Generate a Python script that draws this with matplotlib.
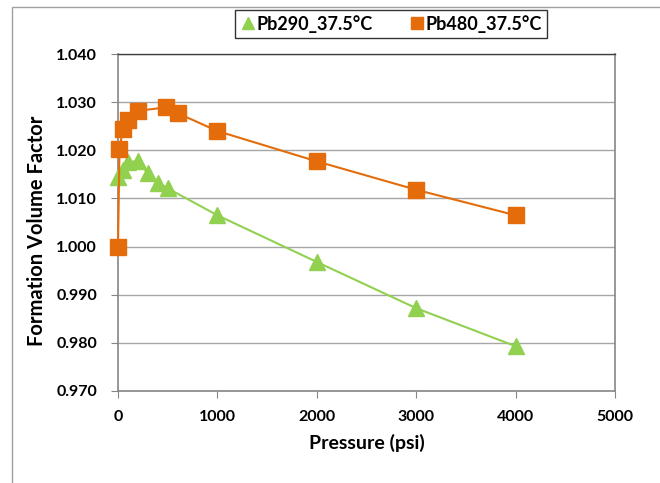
import matplotlib
matplotlib.use("Agg")
import matplotlib.pyplot as plt
from matplotlib.patches import Rectangle

plt.rcParams['font.family'] = ['Lato', 'DejaVu Sans']

p_290 = [0, 50, 100, 200, 300, 400, 500, 1000, 2000, 3000, 4000]
fvf_290 = [1.0145, 1.0160, 1.0175, 1.0178, 1.0152, 1.0133, 1.0121, 1.0065, 0.9968, 0.9872, 0.9793]
p_480 = [0, 15, 50, 100, 200, 480, 600, 1000, 2000, 3000, 4000]
fvf_480 = [1.0000, 1.0202, 1.0245, 1.0262, 1.0282, 1.0289, 1.0277, 1.0240, 1.0177, 1.0118, 1.0065]
label_290 = "Pb290_37.5°C"
label_480 = "Pb480_37.5°C"
x_ticks = [0, 1000, 2000, 3000, 4000, 5000]
y_ticks = [0.970, 0.980, 0.990, 1.000, 1.010, 1.020, 1.030, 1.040]

green = '#92D050'
orange = '#E46C0A'

fig = plt.figure(figsize=(6.6, 4.83), dpi=100)
ax = fig.add_axes([118/660, 1-391/483, (615-118)/660, (391-54)/483])

ax.plot(p_290, fvf_290, color=green, lw=1.5, marker='^', ms=12, mec=green, mfc=green,
        label=label_290, zorder=3, clip_on=False)
ax.plot(p_480, fvf_480, color=orange, lw=1.5, marker='s', ms=12, mec=orange, mfc=orange,
        label=label_480, zorder=3, clip_on=False)

ax.set_xlim(0, 5000)
ax.set_ylim(0.970, 1.040)
ax.set_xticks(x_ticks)
ax.set_yticks(y_ticks)
ax.set_xticklabels([str(v) for v in x_ticks], fontsize=11.5, fontweight='bold')
ax.set_yticklabels([f"{v:.3f}" for v in y_ticks], fontsize=11.5, fontweight='bold')
ax.grid(axis='y', color='#A6A6A6', lw=1)
ax.set_axisbelow(True)
for s in ['left', 'bottom', 'right']:
    ax.spines[s].set_color('#868686')
    ax.spines[s].set_linewidth(1.2)
ax.spines['top'].set_color('#404040')
ax.spines['top'].set_linewidth(1)
ax.tick_params(axis='both', direction='out', length=5, color='#868686')
ax.tick_params(axis='y', pad=10)
ax.tick_params(axis='x', pad=9)
ax.set_xlabel("Pressure (psi)", fontsize=14, fontweight='bold', labelpad=7)
ax.set_ylabel("Formation Volume Factor", fontsize=14.5, fontweight='bold')
ax.yaxis.set_label_coords(-0.143, 0.475)

leg = ax.legend(loc='lower center', bbox_to_anchor=(0.55, 1.02), ncol=2, frameon=True,
                fancybox=False, edgecolor='black', handlelength=0.8, handletextpad=0.1,
                columnspacing=2.0, prop={'weight': 'bold', 'size': 13}, borderpad=0.3,
                markerscale=0.75)
leg.get_frame().set_linewidth(1)
for h in leg.legend_handles:
    h.set_linestyle('none')

fig.patches.append(Rectangle((12/660, -0.1), 1.2, 1-7/483+0.1, transform=fig.transFigure,
                             fill=False, edgecolor='#A0A0A0', lw=1))

fig.savefig("out.png", dpi=100)
